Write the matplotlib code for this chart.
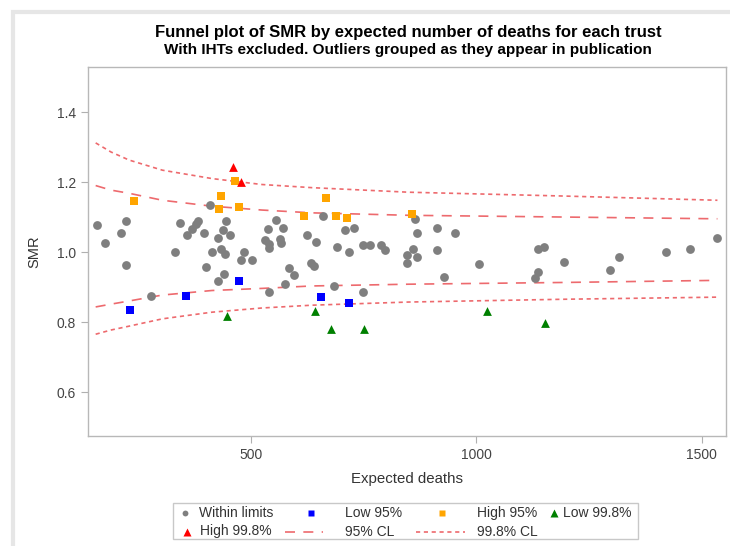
import matplotlib
matplotlib.use("Agg")
import matplotlib.pyplot as plt
from matplotlib.lines import Line2D
from matplotlib.patches import Rectangle

plt.rcParams['font.family'] = ['Liberation Sans', 'DejaVu Sans']

# ---- data ----
within_x = [158, 176, 212, 223, 223, 279, 333, 342, 359, 370, 378, 383, 397, 400, 409, 414,
            428, 428, 435, 438, 441, 442, 445, 453, 478, 484, 503, 538, 532, 540, 541, 540,
            556, 564, 566, 571, 577, 585, 596, 624, 634, 640, 644, 661, 684, 691, 709, 717,
            729, 748, 750, 764, 788, 797, 846, 847, 864, 868, 859, 868, 912, 914, 928, 953,
            1007, 1136, 1150, 1136, 1131, 1195, 1296, 1316, 1422, 1474, 1535]
within_y = [1.079, 1.026, 1.055, 1.091, 0.965, 0.874, 1.000, 1.084, 1.051, 1.068, 1.080, 1.090,
            1.055, 0.958, 1.135, 1.002, 1.040, 0.919, 1.010, 1.065, 0.938, 0.995, 1.089, 1.049,
            0.977, 1.001, 0.977, 1.068, 1.036, 1.023, 1.013, 0.887, 1.092, 1.039, 1.026, 1.071,
            0.909, 0.955, 0.936, 1.051, 0.970, 0.961, 1.029, 1.103, 0.904, 1.016, 1.065, 1.000,
            1.071, 0.887, 1.020, 1.020, 1.020, 1.006, 0.992, 0.969, 1.094, 1.055, 1.011, 0.988,
            1.071, 1.007, 0.930, 1.055, 0.968, 1.011, 1.016, 0.943, 0.927, 0.973, 0.950, 0.987,
            1.000, 1.009, 1.042]

low95_x = [232, 357, 473, 656, 717]
low95_y = [0.835, 0.876, 0.918, 0.871, 0.855]

high95_x = [241, 433, 429, 475, 466, 617, 666, 688, 713, 857]
high95_y = [1.148, 1.161, 1.125, 1.129, 1.204, 1.104, 1.155, 1.103, 1.097, 1.110]

low998_x = [447, 642, 678, 752, 1025, 1152]
low998_y = [0.818, 0.831, 0.782, 0.782, 0.833, 0.799]

high998_x = [461, 479]
high998_y = [1.245, 1.202]

cl_x = [156, 190, 230, 304, 414, 525, 636, 850, 1196, 1535]
upper95 = [1.191, 1.178, 1.169, 1.149, 1.132, 1.121, 1.113, 1.106, 1.101, 1.096]
lower95 = [0.844, 0.852, 0.861, 0.878, 0.891, 0.897, 0.904, 0.909, 0.914, 0.920]
upper998 = [1.313, 1.287, 1.264, 1.235, 1.211, 1.194, 1.185, 1.172, 1.161, 1.149]
lower998 = [0.766, 0.778, 0.789, 0.810, 0.829, 0.841, 0.849, 0.858, 0.866, 0.872]

x_ticks = [500, 1000, 1500]
y_ticks = [0.6, 0.8, 1.0, 1.2, 1.4]

legend_labels = ['Within limits', 'Low 95%', 'High 95%', 'Low 99.8%',
                 'High 99.8%', '95% CL', '99.8% CL']

# ---- figure ----
W, H = 730, 546
fig = plt.figure(figsize=(W / 100, H / 100), dpi=100)
ax = fig.add_axes([88/W, 1 - 436/H, (726 - 88)/W, (436 - 67)/H])

line_col = '#e8383d'
dash95 = (6, 5)
dot998 = (2.5, 2.2)
ax.plot(cl_x, upper95, color=line_col, lw=1.2, alpha=0.75, dashes=dash95, zorder=2)
ax.plot(cl_x, lower95, color=line_col, lw=1.2, alpha=0.75, dashes=dash95, zorder=2)
ax.plot(cl_x, upper998, color=line_col, lw=1.2, alpha=0.75, dashes=dot998, zorder=2)
ax.plot(cl_x, lower998, color=line_col, lw=1.2, alpha=0.75, dashes=dot998, zorder=2)

ax.scatter(within_x, within_y, s=40, marker='o', color='#7f7f7f', lw=0, zorder=3)
ax.scatter(low95_x, low95_y, s=36, marker='s', color='#0000ff', lw=0, zorder=4)
ax.scatter(high95_x, high95_y, s=36, marker='s', color='#ffa500', lw=0, zorder=4)
ax.scatter(low998_x, low998_y, s=40, marker='^', color='#008000', lw=0, zorder=4)
ax.scatter(high998_x, high998_y, s=40, marker='^', color='#ff0000', lw=0, zorder=4)

ax.set_xlim(139, 1554)
ax.set_ylim(0.475, 1.53)
ax.set_xticks(x_ticks)
ax.set_yticks(y_ticks)
ax.set_yticklabels([f"{v:.1f}" for v in y_ticks])
for s in ax.spines.values():
    s.set_color('#b8b8b8')
    s.set_linewidth(1.0)
ax.tick_params(direction='out', length=5, width=0.8, color='#b0b0b0',
               labelsize=10, labelcolor='#444444')
ax.set_xlabel('Expected deaths', fontsize=10.8, color='#333333', labelpad=7)
ax.set_ylabel('SMR', fontsize=10.5, color='#333333', labelpad=11)

fig.text(408/W, 1 - 33/H, 'Funnel plot of SMR by expected number of deaths for each trust',
         ha='center', va='center', fontsize=12, fontweight='bold', color='#000000')
fig.text(408/W, 1 - 50/H, 'With IHTs excluded. Outliers grouped as they appear in publication',
         ha='center', va='center', fontsize=11, fontweight='bold', color='#000000')

# ---- legend (laid out like the reference) ----
def fx(px):
    return px / W

def fy(py):
    return 1 - py / H

fig.add_artist(Rectangle((fx(173), fy(539)), fx(638) - fx(173), fy(503) - fy(539),
                         transform=fig.transFigure, fill=False, edgecolor='#c8c8c8', lw=1.0))
r1, r2 = 513, 531.5
leg_items = [
    ('marker', dict(marker='o', color='#7f7f7f', ms=4.2), 185, r1, 199),
    ('marker', dict(marker='s', color='#0000ff', ms=4.6), 311, r1, 345),
    ('marker', dict(marker='s', color='#ffa500', ms=4.6), 442, r1, 477),
    ('marker', dict(marker='^', color='#008000', ms=5.2), 554, r1, 563),
    ('marker', dict(marker='^', color='#ff0000', ms=5.2), 187, r2, 200),
    ('line', dict(dashes=dash95), (285, 323), r2, 345),
    ('line', dict(dashes=dot998), (416, 465), r2, 477),
]
for (kind, style, hx, ry, tx), lab in zip(leg_items, legend_labels):
    if kind == 'marker':
        fig.add_artist(Line2D([fx(hx)], [fy(ry)], transform=fig.transFigure, ls='none',
                              mec='none', **style))
    else:
        fig.add_artist(Line2D([fx(hx[0]), fx(hx[1])], [fy(ry), fy(ry)], transform=fig.transFigure,
                              color=line_col, lw=1.2, alpha=0.75, **style))
    fig.text(fx(tx), fy(ry), lab, ha='left', va='center', fontsize=10, color='#333333')

# outer border (only left and top edges visible in the reference)
fig.add_artist(Rectangle((13/W, -0.2), 1.2, (1 - 12/H) + 0.2, transform=fig.transFigure,
                         fill=False, edgecolor='#e6e6e6', lw=3, clip_on=False))

fig.savefig('out.png', dpi=100, facecolor='white')
